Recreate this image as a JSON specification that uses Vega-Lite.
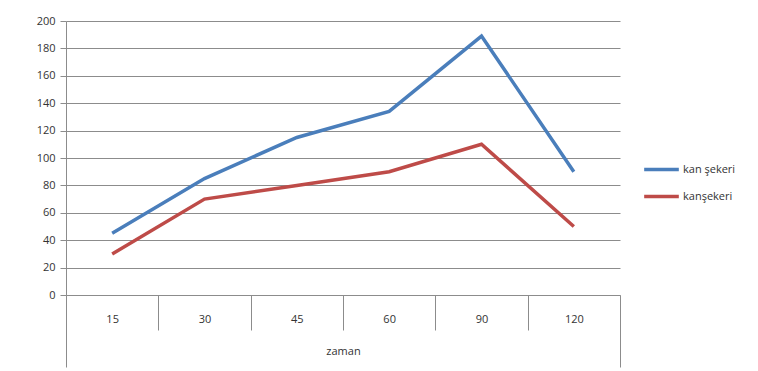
{
  "$schema": "https://vega.github.io/schema/vega-lite/v6.json",
  "autosize": {"type": "none"},
  "width": 554,
  "height": 274,
  "padding": {"left": 66, "top": 21, "right": 138, "bottom": 76},
  "background": "white",
  "config": {
    "font": "Open Sans",
    "view": {"stroke": null},
    "axis": {"labelFont": "Open Sans", "labelFontSize": 11, "labelColor": "#333333", "titleFont": "Open Sans", "titleFontWeight": "normal", "titleFontSize": 11, "titleColor": "#333333", "domainColor": "#8c8c8c", "tickColor": "#8c8c8c", "gridColor": "#8c8c8c"}
  },
  "data": {
    "values": [
      {"zaman": "15", "seri": "kan şekeri", "deger": 45},
      {"zaman": "30", "seri": "kan şekeri", "deger": 85},
      {"zaman": "45", "seri": "kan şekeri", "deger": 115},
      {"zaman": "60", "seri": "kan şekeri", "deger": 134},
      {"zaman": "90", "seri": "kan şekeri", "deger": 189},
      {"zaman": "120", "seri": "kan şekeri", "deger": 90},
      {"zaman": "15", "seri": "kanşekeri", "deger": 30},
      {"zaman": "30", "seri": "kanşekeri", "deger": 70},
      {"zaman": "45", "seri": "kanşekeri", "deger": 80},
      {"zaman": "60", "seri": "kanşekeri", "deger": 90},
      {"zaman": "90", "seri": "kanşekeri", "deger": 110},
      {"zaman": "120", "seri": "kanşekeri", "deger": 50}
    ]
  },
  "mark": {"type": "line", "strokeWidth": 3.5},
  "encoding": {
    "x": {
      "field": "zaman", "type": "ordinal", "sort": ["15", "30", "45", "60", "90", "120"],
      "scale": {"paddingInner": 0, "paddingOuter": 0},
      "axis": {
        "title": "zaman", "labelAngle": 0, "tickBand": "extent", "grid": false,
        "tickSize": {"condition": {"test": "datum.extra || datum.value == '120'", "value": 72}, "value": 35},
        "labelPadding": {"condition": {"test": "datum.value == '120'", "value": -54}, "value": -17},
        "titleY": 50, "domain": true
      }
    },
    "y": {
      "field": "deger", "type": "quantitative",
      "scale": {"domain": [0, 200]},
      "axis": {"title": null, "values": [0, 20, 40, 60, 80, 100, 120, 140, 160, 180, 200], "tickSize": 6, "labelPadding": 5, "grid": true}
    },
    "color": {
      "field": "seri", "type": "nominal",
      "scale": {"domain": ["kan şekeri", "kanşekeri"], "range": ["#4a7ebb", "#be4b48"]},
      "legend": {
        "title": null, "orient": "none", "legendX": 576, "legendY": 129,
        "symbolType": "stroke", "symbolSize": 1200, "symbolStrokeWidth": 3.5,
        "labelFontSize": 11, "labelFont": "Open Sans", "labelColor": "#333333", "rowPadding": -8, "labelOffset": 2
      }
    }
  }
}
